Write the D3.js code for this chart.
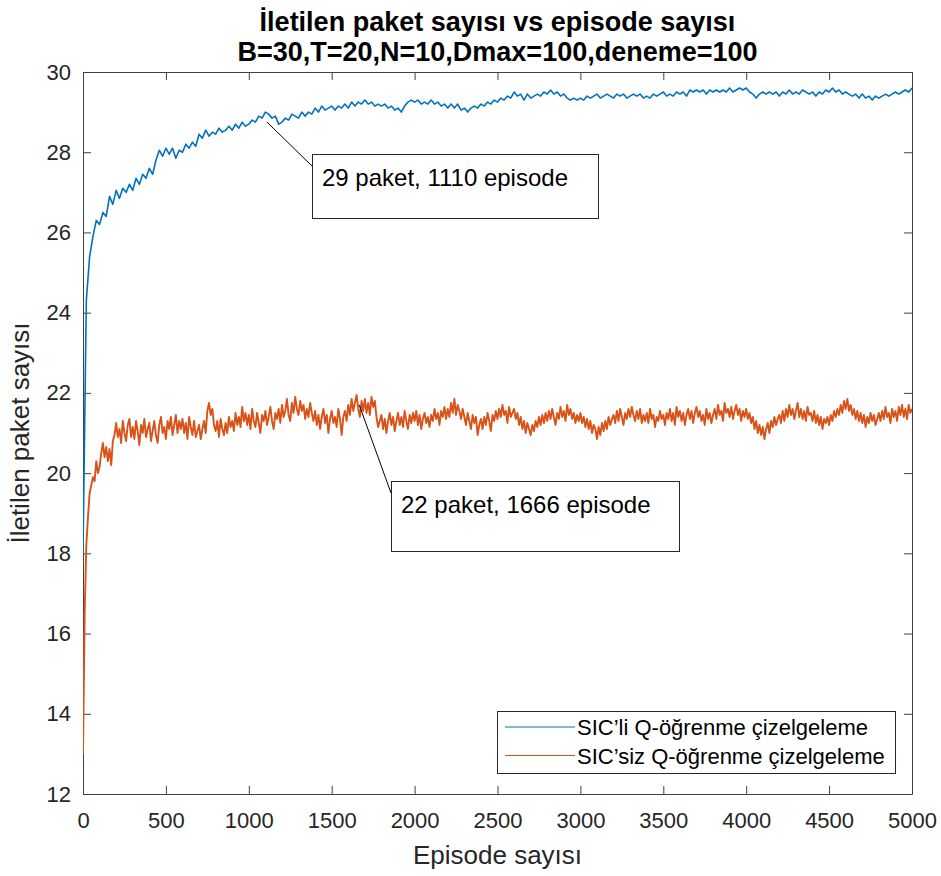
<!DOCTYPE html>
<html lang="tr">
<head>
<meta charset="UTF-8">
<title>İletilen paket sayısı vs episode sayısı</title>
<style>
  body { margin: 0; background: #fff; }
  svg { font-family: "Liberation Sans", Arial, Helvetica, sans-serif; }
  .axis path, .axis line { stroke: #404040; stroke-width: 1; }
  .axis text { font-size: 22px; fill: #262626; font-family: "Liberation Sans", Arial, sans-serif; }
  .line { fill: none; stroke-linejoin: round; }
  .note-box, .legend-box { fill: #fff; stroke: #262626; stroke-width: 1; }
</style>
</head>
<body>
<script src="https://d3js.org/d3.v7.min.js"></script>
<script>

// blue series sampled every 20 episodes, orange every 10 (it is noisier)
var episodesSicli = d3.range(0, 5001, 20);
var episodesSicsiz = d3.range(0, 5001, 10);

// SIC'li Q-öğrenme çizelgeleme (blue)
var sicli = [
  18.0, 24.3, 25.4, 25.9, 26.3, 26.2, 26.5, 26.4, 26.9, 26.7,
  27.05, 26.85, 27.1, 27.0, 27.2, 27.05, 27.35, 27.2, 27.45, 27.35,
  27.6, 27.45, 27.8, 28.05, 27.9, 28.1, 27.95, 28.1, 27.85, 28.05,
  28.0, 28.2, 28.1, 28.25, 28.15, 28.45, 28.35, 28.55, 28.4, 28.5,
  28.45, 28.6, 28.5, 28.55, 28.65, 28.55, 28.7, 28.6, 28.75, 28.65,
  28.7, 28.8, 28.75, 28.9, 28.85, 29.0, 28.95, 28.85, 28.9, 28.7,
  28.75, 28.85, 28.8, 28.95, 28.9, 28.85, 29.0, 28.9, 29.0, 28.95,
  29.1, 29.0, 29.15, 29.05, 29.1, 29.15, 29.05, 29.15, 29.1, 29.2,
  29.1, 29.25, 29.15, 29.25, 29.2, 29.3, 29.2, 29.25, 29.15, 29.2,
  29.15, 29.2, 29.1, 29.15, 29.05, 29.1, 29.0, 29.15, 29.25, 29.3,
  29.25, 29.3, 29.2, 29.25, 29.2, 29.3, 29.2, 29.25, 29.15, 29.2,
  29.1, 29.2, 29.1, 29.2, 29.05, 29.1, 29.0, 29.1, 29.15, 29.1,
  29.2, 29.15, 29.25, 29.2, 29.3, 29.25, 29.35, 29.3, 29.4, 29.35,
  29.5, 29.4, 29.45, 29.3, 29.45, 29.35, 29.4, 29.45, 29.4, 29.5,
  29.45, 29.55, 29.45, 29.5, 29.4, 29.45, 29.35, 29.3, 29.35, 29.3,
  29.35, 29.3, 29.4, 29.35, 29.4, 29.45, 29.35, 29.4, 29.45, 29.4,
  29.35, 29.45, 29.4, 29.45, 29.35, 29.4, 29.45, 29.4, 29.45, 29.35,
  29.4, 29.35, 29.45, 29.4, 29.45, 29.5, 29.4, 29.45, 29.4, 29.5,
  29.45, 29.5, 29.4, 29.55, 29.5, 29.55, 29.5, 29.55, 29.45, 29.55,
  29.5, 29.55, 29.5, 29.55, 29.5, 29.6, 29.5, 29.55, 29.6, 29.55,
  29.6, 29.5, 29.45, 29.35, 29.45, 29.5, 29.45, 29.5, 29.45, 29.5,
  29.4, 29.5, 29.45, 29.55, 29.45, 29.5, 29.45, 29.55, 29.5, 29.45,
  29.5, 29.4, 29.5, 29.45, 29.55, 29.5, 29.6, 29.5, 29.55, 29.45,
  29.5, 29.45, 29.4, 29.45, 29.35, 29.45, 29.35, 29.4, 29.3, 29.4,
  29.35, 29.4, 29.45, 29.4, 29.45, 29.5, 29.45, 29.5, 29.55, 29.5,
  29.6
];

// SIC'siz Q-öğrenme çizelgeleme (orange), one row = 100 episodes
var sicsiz = [
  13.0, 16.5, 18.2, 18.9, 19.5, 19.7, 19.9, 19.8, 20.3, 20.0,
  20.15, 20.5, 20.75, 20.4, 20.65, 20.3, 20.6, 20.2, 20.8, 20.95,
  21.25, 20.9, 21.1, 20.75, 21.3, 21.0, 20.8, 21.2, 21.35, 20.9,
  21.15, 20.85, 21.3, 21.05, 20.7, 21.2, 21.0, 21.35, 20.9, 21.1,
  21.25, 20.8, 21.05, 21.3, 20.95, 20.75, 21.2, 21.4, 21.0, 21.15,
  20.85, 21.3, 21.1, 21.4, 20.95, 21.2, 21.45, 21.0, 21.3, 21.1,
  21.35, 21.0, 21.25, 20.85, 21.4, 21.15, 20.95, 21.3, 20.9, 21.05,
  21.2, 20.85, 21.1, 21.3, 21.0, 21.55, 21.75, 21.45, 21.6, 21.2,
  21.05, 21.3, 20.9, 21.35, 21.1, 20.95, 21.25, 21.0, 21.4, 21.15,
  21.3, 21.05, 21.5, 21.2, 21.4, 21.15, 21.65, 21.3, 21.5, 21.2,
  21.45, 21.1, 21.6, 21.3, 21.15, 21.5, 21.25, 21.0, 21.45, 21.3,
  21.55, 21.2, 21.4, 21.65, 21.3, 21.1, 21.5, 21.35, 21.6, 21.25,
  21.7, 21.4, 21.55, 21.85, 21.45, 21.3, 21.75, 21.5, 21.9, 21.6,
  21.45, 21.8, 21.55, 21.7, 21.35, 21.6, 21.4, 21.75, 21.5, 21.3,
  21.55, 21.2, 21.45, 21.1, 21.4, 21.6, 21.25, 21.45, 21.0, 21.35,
  21.55, 21.25, 21.4, 21.15, 21.6, 21.35, 20.95, 21.4, 21.55, 21.3,
  21.7, 21.45, 21.85, 21.55, 21.75, 21.95, 21.6, 21.4, 21.8, 21.55,
  21.85, 21.5, 21.75, 21.45, 21.9, 21.65, 21.8, 21.4, 21.15, 21.3,
  21.45, 21.1, 21.35, 21.0, 21.3, 21.5, 21.2, 21.4, 21.05, 21.3,
  21.5, 21.2, 21.4, 21.15, 21.55, 21.3, 21.1, 21.45, 21.25, 21.5,
  21.3, 21.55, 21.2, 21.45, 21.1, 21.35, 21.5, 21.25, 21.4, 21.15,
  21.45, 21.3, 21.6, 21.35, 21.5, 21.2, 21.55, 21.4, 21.65, 21.35,
  21.6, 21.4, 21.75, 21.5, 21.85, 21.45, 21.7, 21.55, 21.35, 21.6,
  21.4, 21.2, 21.5, 21.3, 21.1, 21.45, 21.25, 21.4, 20.95, 21.2,
  21.35, 21.1, 21.4, 21.2, 21.5, 21.3, 21.05, 21.45, 21.3, 21.55,
  21.35, 21.6, 21.4, 21.7, 21.45, 21.55, 21.25, 21.65, 21.4, 21.5,
  21.6, 21.35, 21.5, 21.2, 21.4, 21.1, 21.3, 21.0, 21.25, 21.1,
  20.95, 21.2, 21.05, 21.3, 21.15, 21.4, 21.2, 21.45, 21.25, 21.5,
  21.3, 21.55, 21.35, 21.6, 21.4, 21.2, 21.5, 21.35, 21.65, 21.4,
  21.55, 21.3, 21.7, 21.45, 21.6, 21.35, 21.5, 21.25, 21.45, 21.3,
  21.5, 21.25, 21.4, 21.15, 21.35, 21.1, 21.3, 21.0, 21.2, 21.1,
  20.85, 21.15, 20.95, 21.25, 21.05, 21.3, 21.1, 21.4, 21.2, 21.35,
  21.45, 21.25, 21.55, 21.3, 21.6, 21.4, 21.2, 21.5, 21.35, 21.6,
  21.4, 21.65, 21.45, 21.3, 21.55, 21.35, 21.6, 21.25, 21.45, 21.3,
  21.5, 21.25, 21.6, 21.35, 21.45, 21.15, 21.4, 21.3, 21.55, 21.35,
  21.45, 21.2, 21.5, 21.35, 21.6, 21.3, 21.5, 21.2, 21.65, 21.4,
  21.55, 21.3, 21.5, 21.2, 21.45, 21.6, 21.35, 21.55, 21.25, 21.5,
  21.65, 21.4, 21.55, 21.3, 21.45, 21.2, 21.6, 21.35, 21.5, 21.25,
  21.45, 21.6, 21.35, 21.7, 21.45, 21.55, 21.3, 21.75, 21.5, 21.6,
  21.4, 21.65, 21.35, 21.55, 21.7, 21.45, 21.6, 21.3, 21.55, 21.4,
  21.6, 21.35, 21.5, 21.25, 21.4, 21.1, 21.3, 21.0, 21.2, 20.95,
  21.15, 20.85, 21.1, 21.25, 21.0, 21.3, 21.15, 21.4, 21.2, 21.35,
  21.45, 21.25, 21.55, 21.3, 21.6, 21.4, 21.7, 21.45, 21.6, 21.35,
  21.55, 21.75, 21.4, 21.6, 21.35, 21.55, 21.3, 21.65, 21.45, 21.5,
  21.3, 21.55, 21.25, 21.45, 21.2, 21.4, 21.1, 21.35, 21.25, 21.4,
  21.2, 21.45, 21.3, 21.55, 21.4, 21.6, 21.45, 21.7, 21.5, 21.8,
  21.6, 21.85, 21.55, 21.7, 21.45, 21.6, 21.35, 21.55, 21.3, 21.5,
  21.25, 21.45, 21.15, 21.4, 21.25, 21.5, 21.3, 21.45, 21.2, 21.35,
  21.5, 21.3, 21.55, 21.35, 21.65, 21.4, 21.5, 21.25, 21.6, 21.4,
  21.55, 21.3, 21.65, 21.45, 21.7, 21.4, 21.6, 21.35, 21.7, 21.5,
  21.6
];

var seriesNames = ["SIC\u2019li Q-öğrenme çizelgeleme", "SIC\u2019siz Q-öğrenme çizelgeleme"];
var seriesColors = ["#0072BD", "#D95319"];
var seriesWidths = [1.6, 1.9];

var xTicks = [0, 500, 1000, 1500, 2000, 2500, 3000, 3500, 4000, 4500, 5000];
var yTicks = [12, 14, 16, 18, 20, 22, 24, 26, 28, 30];

// data tips placed on the curves
var notes = [
  {episode: 1110, value: 28.75, text: "29 paket, 1110 episode", bx: 229, by: 82, bw: 286, bh: 64},
  {episode: 1666, value: 21.7,  text: "22 paket, 1666 episode", bx: 308, by: 409, bw: 288, bh: 70}
];

var titleLines = ["İletilen paket sayısı vs episode sayısı", "B=30,T=20,N=10,Dmax=100,deneme=100"];

var margin = {top: 72, right: 29, bottom: 82, left: 83},
    width = 941 - margin.left - margin.right,
    height = 876 - margin.top - margin.bottom;

var x = d3.scaleLinear().domain([0, 5000]).range([0, width]);
var y = d3.scaleLinear().domain([12, 30]).range([height, 0]);

var svgRoot = d3.select("body").append("svg")
    .attr("width", 941)
    .attr("height", 876);

var svg = svgRoot.append("g")
    .attr("transform", "translate(" + margin.left + "," + margin.top + ")");

svg.append("clipPath").attr("id", "plot-clip")
  .append("rect").attr("width", width).attr("height", height);

// axes with inward ticks on all four sides (box on)
svg.append("g").attr("class", "axis")
    .attr("transform", "translate(0," + height + ")")
    .call(d3.axisBottom(x).tickValues(xTicks).tickFormat(d3.format("d"))
      .tickSizeInner(-8).tickSizeOuter(0).tickPadding(18));
svg.append("g").attr("class", "axis")
    .call(d3.axisTop(x).tickValues(xTicks).tickSizeInner(-8).tickSizeOuter(0).tickFormat(""));
svg.append("g").attr("class", "axis")
    .call(d3.axisLeft(y).tickValues(yTicks).tickSizeInner(-8).tickSizeOuter(0).tickPadding(12));
svg.append("g").attr("class", "axis")
    .attr("transform", "translate(" + width + ",0)")
    .call(d3.axisRight(y).tickValues(yTicks).tickSizeInner(-8).tickSizeOuter(0).tickFormat(""));

var series = [
  {episodes: episodesSicli, values: sicli},
  {episodes: episodesSicsiz, values: sicsiz}
];

var line = d3.line()
    .x(function(d) { return x(d[0]); })
    .y(function(d) { return y(d[1]); });

svg.append("g").attr("clip-path", "url(#plot-clip)")
  .selectAll(".line")
  .data(series)
  .enter().append("path")
    .attr("class", "line")
    .attr("stroke", function(d, i) { return seriesColors[i]; })
    .attr("stroke-width", function(d, i) { return seriesWidths[i]; })
    .attr("d", function(s) { return line(d3.zip(s.episodes, s.values)); });

// data tip boxes
notes.forEach(function(n) {
  svg.append("line")
      .attr("x1", x(n.episode)).attr("y1", y(n.value))
      .attr("x2", n.bx).attr("y2", n.by + 12)
      .attr("stroke", "#000").attr("stroke-width", 1);
  svg.append("rect").attr("class", "note-box")
      .attr("x", n.bx + 0.5).attr("y", n.by + 0.5)
      .attr("width", n.bw).attr("height", n.bh);
  svg.append("text")
      .attr("x", n.bx + 10).attr("y", n.by + 32)
      .style("font-size", "24px").attr("fill", "#000")
      .text(n.text);
});

// legend
var legend = svg.append("g").attr("transform", "translate(414,639)");
legend.append("rect").attr("class", "legend-box")
    .attr("x", 0.5).attr("y", 0.5).attr("width", 398).attr("height", 62);
seriesNames.forEach(function(name, i) {
  var ly = 16 + i * 28.5;
  legend.append("line")
      .attr("x1", 8).attr("x2", 78).attr("y1", ly).attr("y2", ly)
      .attr("stroke", seriesColors[i]).attr("stroke-width", 1);
  legend.append("text")
      .attr("x", 80).attr("y", ly + 8)
      .style("font-size", "22px").attr("fill", "#000")
      .text(name);
});

// axis labels
svgRoot.append("text")
    .attr("x", margin.left + width / 2).attr("y", 864)
    .attr("text-anchor", "middle")
    .style("font-size", "26px").attr("fill", "#262626")
    .text("Episode sayısı");

svgRoot.append("text")
    .attr("transform", "translate(29," + (margin.top + height / 2) + ") rotate(-90)")
    .attr("text-anchor", "middle")
    .style("font-size", "26px").attr("fill", "#262626")
    .text("İletilen paket sayısı");

// title
svgRoot.selectAll(".title")
  .data(titleLines)
  .enter().append("text")
    .attr("class", "title")
    .attr("x", margin.left + width / 2)
    .attr("y", function(d, i) { return 31 + i * 30; })
    .attr("text-anchor", "middle")
    .style("font-size", "27px").style("font-weight", "bold").attr("fill", "#000")
    .text(function(d) { return d; });

</script>
</body>
</html>
